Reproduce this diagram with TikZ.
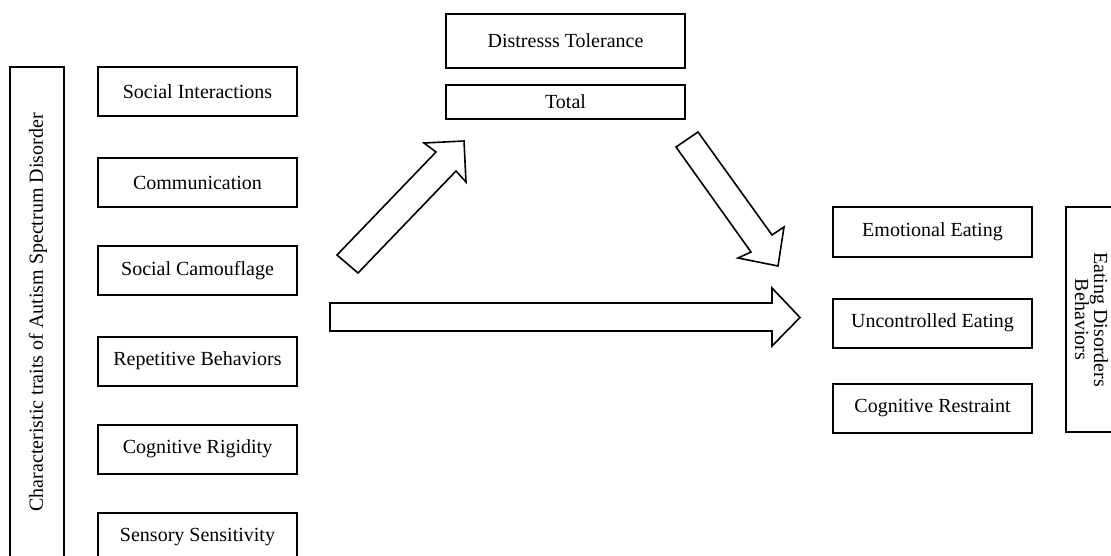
\documentclass[tikz,border=0pt]{standalone}
\usepackage{fontspec}
\setmainfont{Liberation Serif}
\begin{document}
\begin{tikzpicture}[x=1pt,y=-1pt,
  box/.style={draw,line width=2pt,rectangle,inner sep=0pt,minimum width=199pt,minimum height=49pt,font=\fontsize{20}{24}\selectfont},
  tallbox/.style={draw,line width=2pt,rectangle,inner sep=0pt,font=\fontsize{20}{24}\selectfont},
  blockarrow/.style={draw,line width=1.6pt,line join=miter,fill=white}]
\useasboundingbox (0,0) rectangle (1111,556);
% left column
\node[tallbox,minimum width=54pt,minimum height=494pt] (asd) at (37,314) {};
\node[rotate=90,font=\fontsize{20}{24}\selectfont] (asdlabel) at (38,312.5) {Characteristic traits of Autism Spectrum Disorder};
\node[box] (si) at (197.5,91.5) {Social Interactions};
\node[box] (co) at (197.5,182.5) {Communication};
\node[box] (sc) at (197.5,270.5) {Social Camouflage};
\node[box] (rb) at (197.5,361) {Repetitive Behaviors};
\node[box] (cr) at (197.5,449) {Cognitive Rigidity};
\node[box] (ss) at (197.5,537.5) {Sensory Sensitivity};
% mediator
\node[box,minimum width=239pt,minimum height=54pt] (dt) at (565.5,41) {Distresss Tolerance};
\node[box,minimum width=239pt,minimum height=34pt] (tot) at (565.5,102) {Total};
% outcomes
\node[box] (ee) at (932.5,232) {Emotional Eating};
\node[box] (ue) at (932.5,323) {Uncontrolled Eating};
\node[box] (cre) at (932.5,408.5) {Cognitive Restraint};
\node[tallbox,minimum width=48pt,minimum height=225pt] (edb) at (1090,319.5) {};
\node[rotate=-90,align=center,font=\fontsize{20}{19}\selectfont] (edblabel) at (1091.5,319.5) {Eating Disorders\\Behaviors};
% block arrows
\draw[blockarrow] (337,255) -- (436,152) -- (424,143) -- (464,141) -- (466,182) -- (456,171) -- (358,273) -- cycle;
\draw[blockarrow] (698,132) -- (772,235) -- (784,227) -- (778,266) -- (738,258) -- (751,252) -- (676,147) -- cycle;
\draw[blockarrow] (330,303) -- (772,303) -- (772,288) -- (800,317.5) -- (772,346) -- (772,331) -- (330,331) -- cycle;
\end{tikzpicture}
\end{document}
